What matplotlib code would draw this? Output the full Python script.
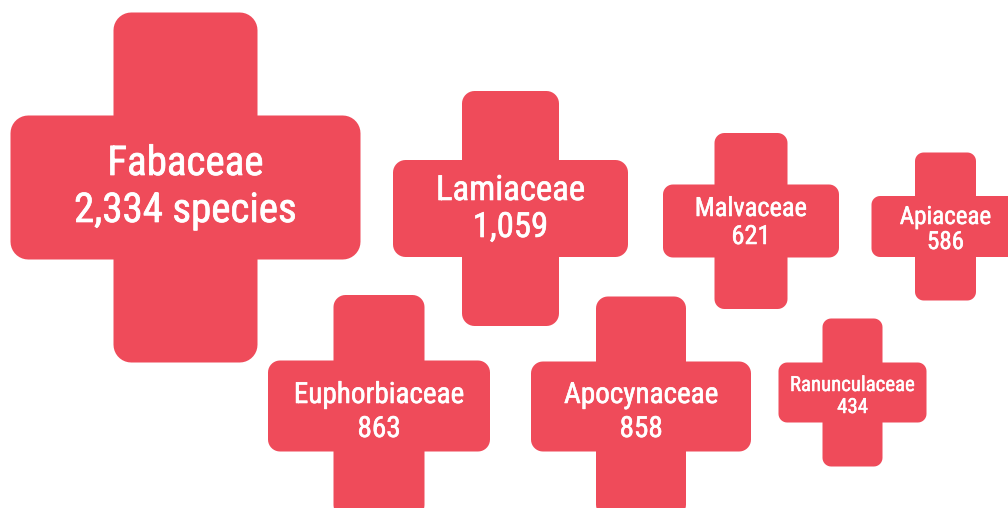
import numpy as np
import matplotlib
matplotlib.use("Agg")
import matplotlib.pyplot as plt
from matplotlib.path import Path
from matplotlib.patches import PathPatch
from matplotlib import font_manager as fm
import matplotlib.patheffects as pe

# ---- data ----
families = ["Fabaceae", "Lamiaceae", "Malvaceae", "Apiaceae",
            "Euphorbiaceae", "Apocynaceae", "Ranunculaceae"]
species = [2334, 1059, 621, 586, 863, 858, 434]
value_suffix = [" species", "", "", "", "", "", ""]

# ---- layout (pixels, y downwards) ----
cx = [185.5, 510.5, 751.0, 945.5, 379.0, 641.0, 852.5]
cy = [187.5, 208.5, 221.0, 226.5, 406.0, 406.5, 392.5]
size = [350, 235, 176, 148, 222, 220, 148]
arm = [144, 97, 73, 61, 91, 90, 60]
fsize = [29.5, 25, 19, 18, 21, 21, 15]
base1 = [175, 200, 216, 224, 403, 403, 391]
base2 = [222, 237, 244, 249, 437, 437, 413]

COLOR = "#EF4B5A"

avail = {f.name for f in fm.fontManager.ttflist}
font = "DejaVu Sans"
for cand in ["Roboto Condensed", "Liberation Sans Narrow", "Open Sans Condensed",
             "Noto Sans Condensed", "Roboto", "Lato"]:
    if cand in avail:
        font = cand
        break

W, H = 1008, 508
fig = plt.figure(figsize=(W / 100, H / 100), dpi=100)
ax = fig.add_axes([0, 0, 1, 1])
ax.set_xlim(0, W)
ax.set_ylim(H, 0)
ax.axis("off")


def cross_path(x0, y0, s, a, r):
    h = s / 2.0
    w = a / 2.0
    pts = [
        (x0 - w, y0 - h, True), (x0 + w, y0 - h, True),
        (x0 + w, y0 - w, False),
        (x0 + h, y0 - w, True), (x0 + h, y0 + w, True),
        (x0 + w, y0 + w, False),
        (x0 + w, y0 + h, True), (x0 - w, y0 + h, True),
        (x0 - w, y0 + w, False),
        (x0 - h, y0 + w, True), (x0 - h, y0 - w, True),
        (x0 - w, y0 - w, False),
    ]
    n = len(pts)
    verts = []
    for i in range(n):
        px, py, convex = pts[i]
        if not convex:
            verts.append((px, py))
            continue
        qx, qy, _ = pts[i - 1]
        nx, ny, _ = pts[(i + 1) % n]
        d1 = np.array([qx - px, qy - py]); d1 /= np.linalg.norm(d1)
        d2 = np.array([nx - px, ny - py]); d2 /= np.linalg.norm(d2)
        p = np.array([px, py])
        a1 = p + d1 * r
        a2 = p + d2 * r
        ctr = p + d1 * r + d2 * r
        v1 = a1 - ctr
        v2 = a2 - ctr
        t1 = np.arctan2(v1[1], v1[0])
        t2 = np.arctan2(v2[1], v2[0])
        dt = (t2 - t1 + np.pi) % (2 * np.pi) - np.pi
        for t in np.linspace(0, 1, 10):
            ang = t1 + dt * t
            verts.append((ctr[0] + r * np.cos(ang), ctr[1] + r * np.sin(ang)))
    verts.append(verts[0])
    codes = [Path.MOVETO] + [Path.LINETO] * (len(verts) - 2) + [Path.CLOSEPOLY]
    return Path(verts, codes)


for i, fam in enumerate(families):
    r = 0.045 * size[i] + 2
    p = cross_path(cx[i], cy[i], size[i], arm[i], r)
    ax.add_patch(PathPatch(p, facecolor=COLOR, edgecolor="none"))
    lw = 0.15 + 0.012 * fsize[i]
    effects = [pe.withStroke(linewidth=lw, foreground="white")]
    ax.text(cx[i], base1[i], fam, ha="center", va="baseline",
            fontsize=fsize[i], color="white", family=font, fontweight="normal",
            path_effects=effects)
    ax.text(cx[i], base2[i], f"{species[i]:,}{value_suffix[i]}", ha="center",
            va="baseline", fontsize=fsize[i], color="white", family=font,
            fontweight="normal", path_effects=effects)

fig.savefig("out.png", dpi=100, facecolor="white")
